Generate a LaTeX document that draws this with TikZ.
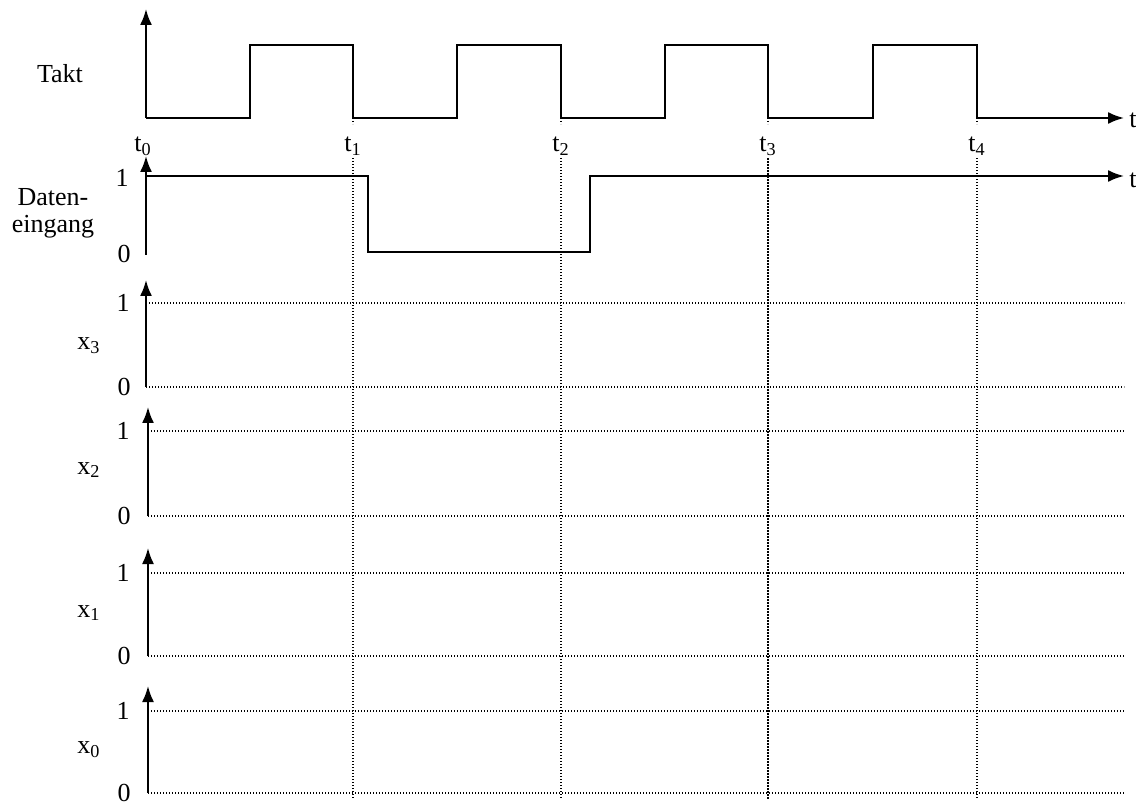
\documentclass[tikz,border=0pt]{standalone}
\usepackage{fontspec}
\setmainfont{Liberation Serif}
\usetikzlibrary{arrows.meta}
\tikzset{
  sig/.style={line width=1pt},
  dotline/.style={line width=0.6pt,dash pattern=on 0.6pt off 0.9pt},
  lab/.style={font=\fontsize{13}{13.5}\selectfont,inner sep=1pt},
}

\begin{document}
\begin{tikzpicture}[x=0.5pt,y=-0.5pt,>={Latex[length=8pt,width=6pt]}]
  \useasboundingbox (0,0) rectangle (1136,802);
  % Takt
  \node[lab] (takt) at (60,74) {Takt};
  \draw[sig,->] (146,118) -- (146,9);
  \draw[sig,->] (146,118) \foreach \a/\b in {250/353,457/561,665/768,873/977}{
      -- (\a,118) -- (\a,45) -- (\b,45) -- (\b,118)} -- (1124,118);
  \node[lab,anchor=west] (tTakt) at (1127,120) {t};
  \node[lab,anchor=base] (t0) at (143,152) {t\textsubscript{0}};
  \foreach \x/\i in {353/1,561/2,768/3,977/4} {
    \node[lab,anchor=base] (t\i) at (\x,152) {t\textsubscript{\i}};
    \draw[dotline] (\x,118) -- ++(0,6);
    \draw[dotline] (t\i.south) -- (\x,800);
  }
  % Dateneingang
  \node[lab,align=center] (daten) at (53,213) {Daten-\\eingang};
  \draw[sig,->] (146,255) -- (146,156);
  \draw[sig,->] (146,176) -- (368,176) -- (368,252) -- (590,252) -- (590,176) -- (1124,176);
  \node[lab,anchor=west] (tDaten) at (1127,180) {t};
  \node[lab] (dOne) at (122,178) {1};
  \node[lab] (dZero) at (124,254) {0};
  % Ausgaenge x3..x0
  \foreach \n/\ya/\yb/\yc/\ax/\ly in {3/280/303/387/146/346,2/407/431/516/148/470,
                                       1/548/573/656/148/613,0/686/711/793/148/750} {
    \draw[sig,->] (\ax,\yc) -- (\ax,\ya);
    \draw[dotline] (\ax,\yb) -- (1124,\yb);
    \draw[dotline] (\ax,\yc) -- (1124,\yc);
    \node[lab] (x\n) at (89,\ly) {x\textsubscript{\n}};
    \node[lab] (one\n) at (123,\yb) {1};
    \node[lab] (zero\n) at (124,\yc) {0};
  }
\end{tikzpicture}
\end{document}
